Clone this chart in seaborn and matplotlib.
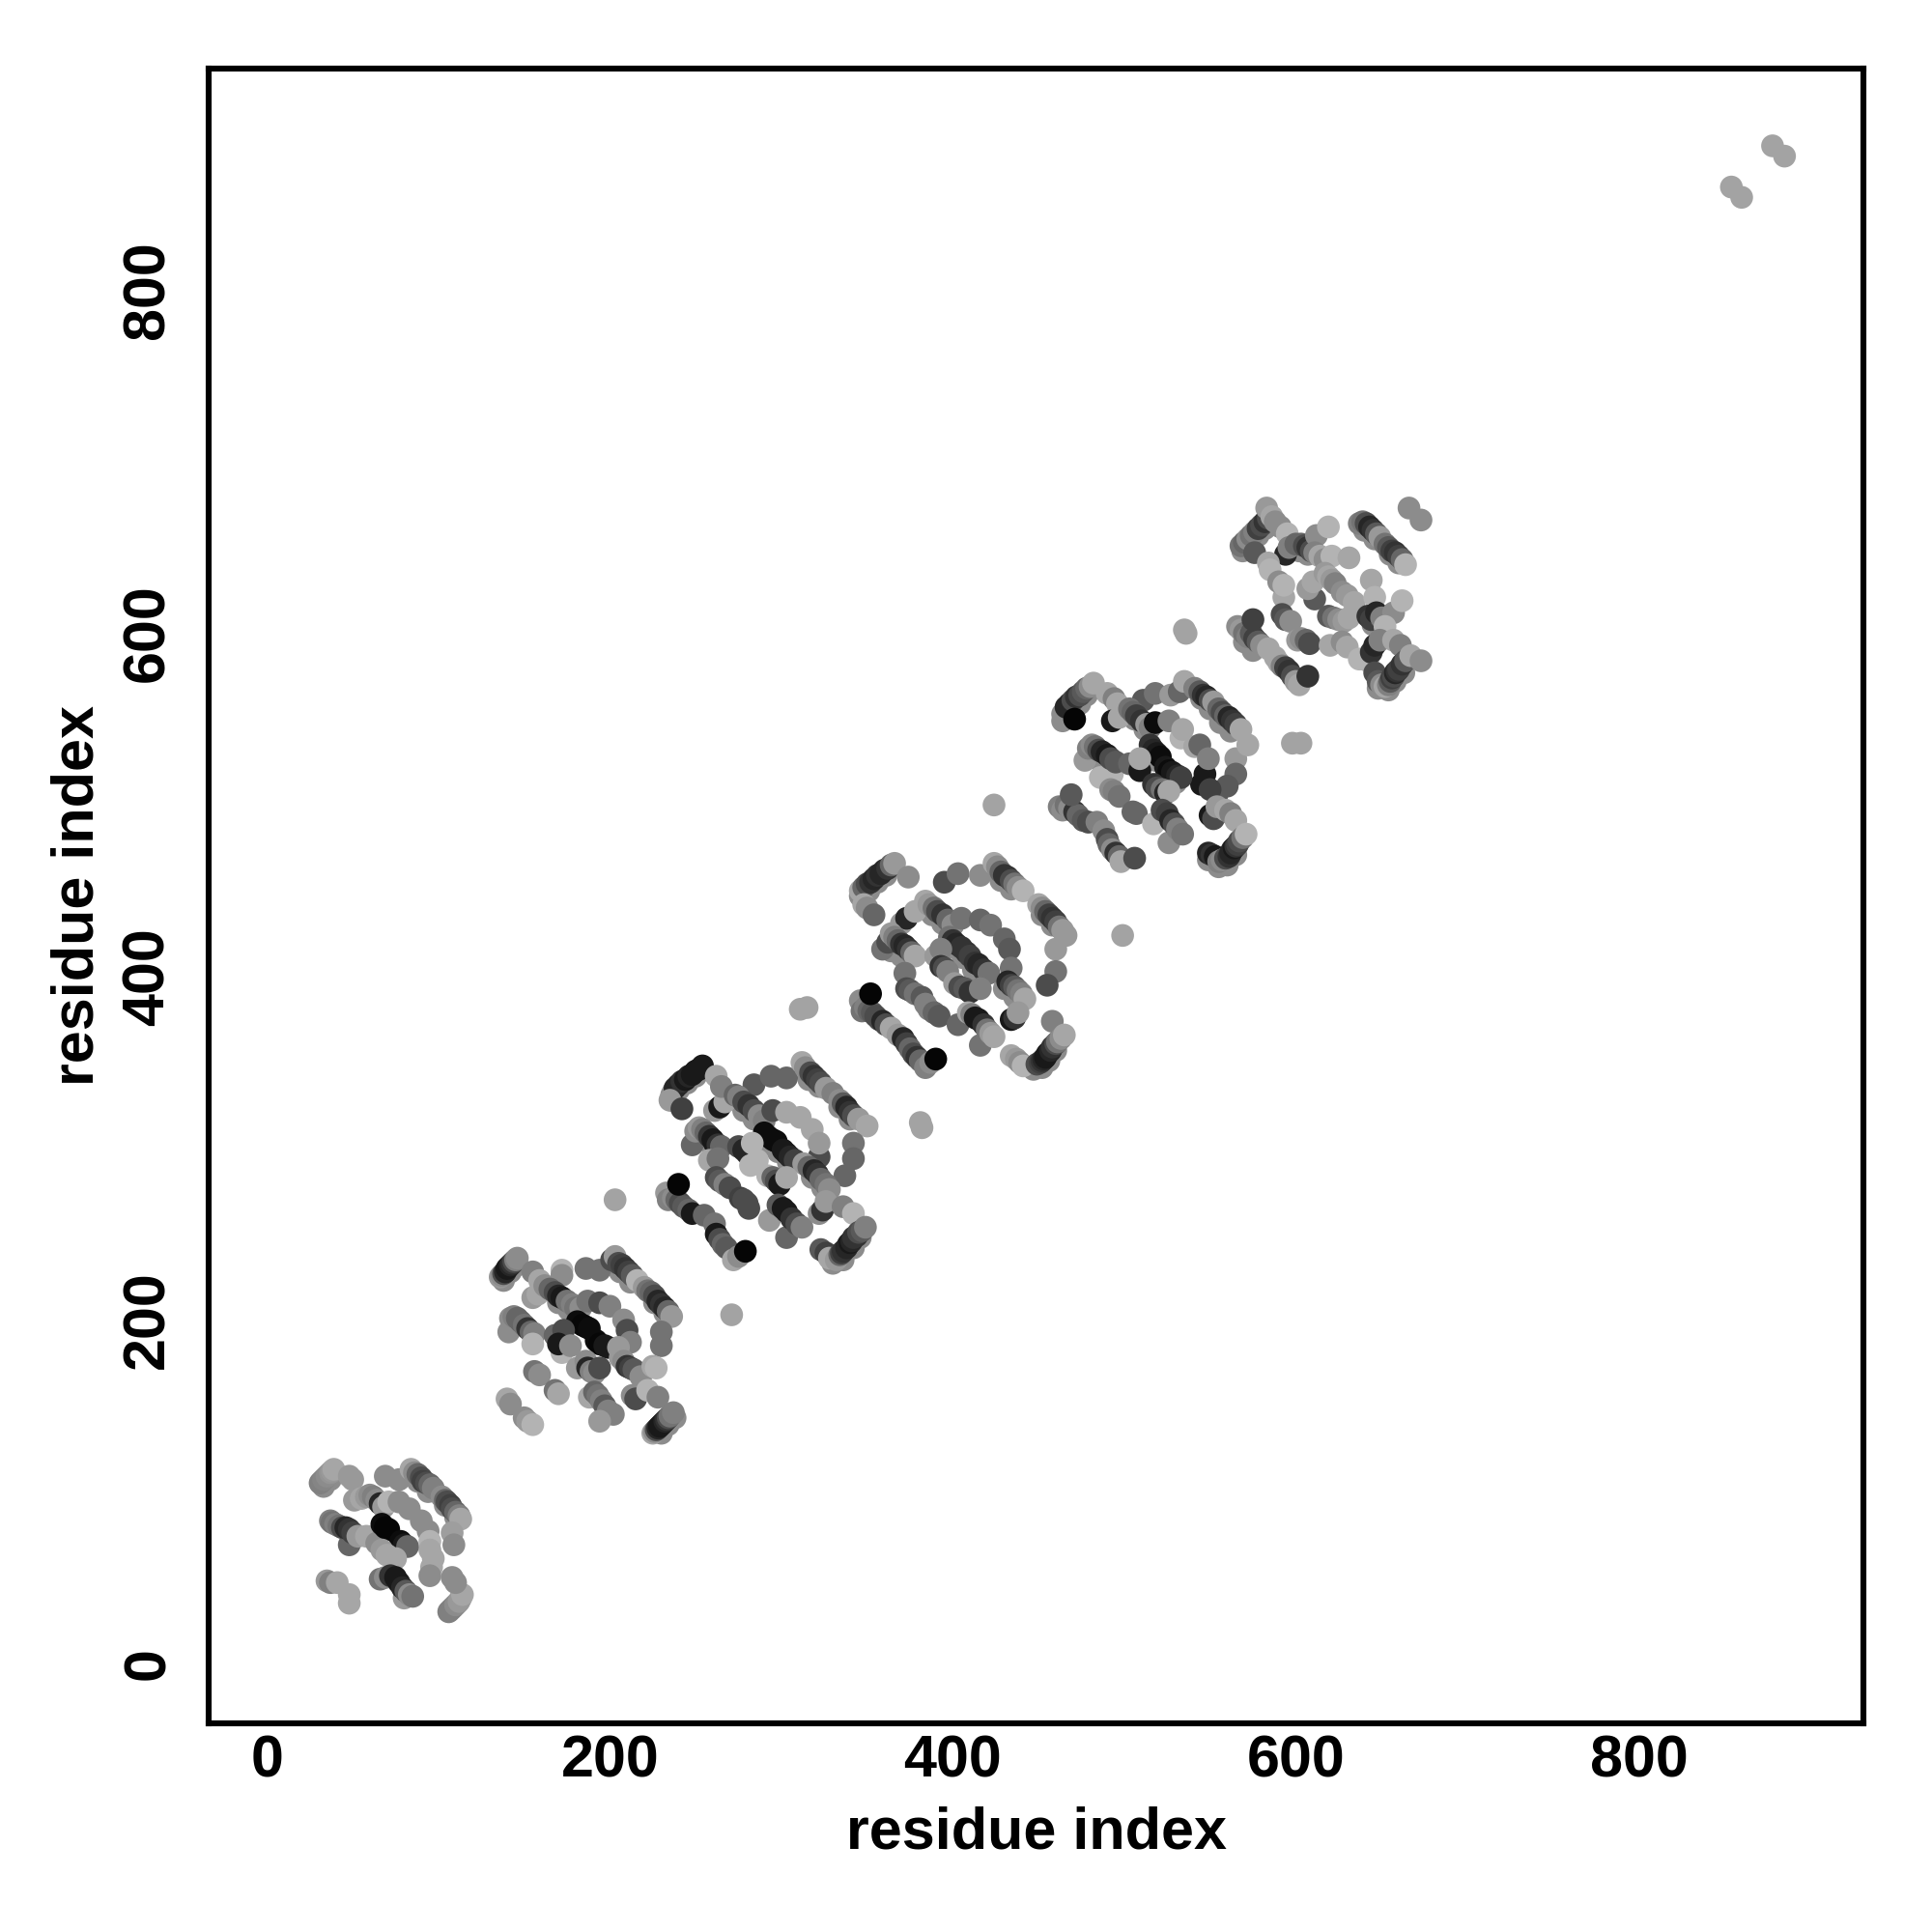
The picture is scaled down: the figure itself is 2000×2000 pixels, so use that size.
import pandas as pd
import matplotlib
matplotlib.use('Agg')
import matplotlib.pyplot as plt
import seaborn as sns

# pale points peeking out under the dense strands
rim_x = [33,37, 88,94,104,110,
         138,142,146, 206,212,226,232, 170,176, 230,234,238,
         236,240,245,250, 316,322,334,340, 278,284, 292,298,304, 330,336,342,346, 256,260, 318,324,
         346,351,356,361, 428,434,452,458, 388,394, 400,406,412, 447,452,456,460, 364,370, 430,436,
         464,468,474,478, 545,550,556,562, 506,512, 518,524,530, 549,555,560,565, 482,488,
         569,573,578,582, 640,646,655,660, 602,607, 645,650, 648,654,658,663, 570,575]
rim_y = [103,107, 106,100,92,85,
         223,228,232, 228,222,210,204, 210,206, 134,139,143,
         331,334,338,342, 340,336,324,317, 322,317, 303,298,292, 233,235,242,248, 305,300, 283,277,
         447,450,455,459, 456,451,436,430, 436,431, 417,411,404, 346,347,351,357, 415,412, 393,388,
         549,554,559,564, 562,556,548,543, 550,544, 526,516,513, 468,464,465,471, 528,522,
         648,652,657,661, 660,655,646,641, 648,646, 605,600, 568,567,572,577, 595,590]
rim_g = [.55]*len(rim_x)

# domain 1
d1_x = [31,32,33,34,35,36,37,38,39, 48,50, 69,77,
        84,86,88,90,91,93,95,97,
        102,104,105,107,108,110,112,113, 108,109,
        51,55,58,60,62,64,66,68,
        71,77,83,90,94,95,95,97,96,95,
        48, 37,38,40,42,44,46,48,50,53,58, 64,
        67,69,71,78,80,82, 67,70,75,
        80,66,69,72,75,77,79,81,83,85,
        35,37,41,48,48,
        106,107,108,109,110,111,112,113,114, 108,110]
d1_y = [105,106,107,108,109,110,111,112,113, 109,107, 109,107,
        113,111,110,108,106,105,104,102,
        97,95,94,92,90,88,86,84, 76,69,
        95,96,97,98,97,95,93,91,
        94,94,90,83,77,71,66,61,56,51,
        69, 83,82,81,80,79,79,78,76,74,74, 70,
        81,79,78,71,69,68, 66,63,61,
        38,49,50,51,50,47,44,42,40,39,
        48,47,47,40,35,
        30,31,32,33,34,35,36,38,40, 50,47]
d1_g = [.5,.5,.52,.52,.55,.55,.58,.6,.65, .6,.6, .55,.55,
        .65,.55,.4,.3,.25,.3,.4,.5,
        .55,.4,.3,.25,.3,.4,.5,.65, .62,.55,
        .6,.65,.6,.55,.5,.55,.15,.6,
        .7,.55,.55,.55,.55,.7,.65,.65,.65,.55,
        .4, .5,.45,.5,.45,.3,.15,.2,.25,.6,.65, .55,
        .05,.02,.02,.05,.1,.4, .6,.65,.65,
        .6,.45,.55,.2,.1,.1,.15,.35,.55,.45,
        .6,.5,.65,.65,.65,
        .5,.5,.5,.5,.55,.55,.6,.6,.65, .55,.55]

# domain 2
d2_x = [136,137,138,139,140,141,142,143,144,145,146,
        155,172,172,155,158,159,
        162,165,168,170,172,175,178,180, 186,194,
        201,203,205,207,209,211,213,216,
        220,222,224,226,228,230,232,234,236, 230,230,
        183,187,194,200,208,210,212,
        181,184,186,188,192,194,197,199,205,
        141,142,144,146,148,150,152,154,156,155,
        172,168,173,170,177, 156,159,168,170,
        181,186,187,189,191,194,
        206,208,210,212,214,218,225,227,
        213,215,222,228,
        188,191,193,195,197,199,202,194,
        140,142,150,152,155,
        225,226,227,228,229,230,231,232,233,234,235,237]
d2_y = [225,226,227,228,230,231,232,233,234,235,236,
        228,229,226,213,215,223,
        220,218,216,214,213,211,209,207, 230,229,
        235,237,233,232,230,228,226,223,
        219,217,216,214,211,209,207,205,202, 193,185,
        207,211,210,208,200,194,187,
        199,197,196,195,188,186,185,184,184,
        193,201,202,201,199,197,195,193,192,186,
        181,191,194,186,185, 170,168,159,157,
        172,176,172,170,169,172,
        178,176,173,172,171,167,173,172,
        156,154,159,155,
        155,158,156,153,150,147,145,141,
        154,151,143,141,139,
        134,135,136,137,138,139,140,141,142,143,144,146]
d2_g = [.6,.55,.3,.15,.1,.1,.15,.2,.3,.5,.55,
        .5,.7,.55,.6,.65,.65,
        .55,.4,.3,.15,.1,.45,.5,.45, .45,.45,
        .3,.6,.3,.25,.2,.25,.35,.7,
        .6,.45,.4,.3,.15,.2,.15,.4,.6, .45,.45,
        .55,.45,.3,.5,.55,.3,.5,
        .05,.03,.03,.05,.05,.03,.1,.1,.6,
        .55,.55,.5,.4,.4,.45,.2,.4,.5,.7,
        .7,.4,.3,.1,.55, .45,.55,.45,.65,
        .6,.55,.15,.5,.55,.3,
        .6,.55,.2,.25,.35,.55,.65,.7,
        .55,.3,.7,.5,
        .65,.4,.45,.5,.35,.5,.5,.6,
        .65,.55,.55,.6,.7,
        .65,.55,.3,.15,.1,.1,.1,.15,.2,.3,.45,.5]

# domain 3
d3_x = [236,237,238,240,242,244,246,248,250,252,254, 235,242,
        261,264,267,262,265, 284,294,303,
        312,314,317,319,321,323,326,
        330,334,336,338,340,342,345,350, 342,342,337,
        273,275,278,281,284,287,290, 295,303,311, 322,318,322,
        290,292,295,297,301,303,305,308,
        313,316,319,321,323,326,328,
        248,250,252,254,256,258,260,261,263,265, 258,263,
        275,278,280,283,286,282, 292,295,297,299,303,
        262,264,267,270,276,278,280,281,
        303,293,298,301,303,306,309,312,
        322,324,326,336,342,
        233,234,237,239,241,243,246,248,240,
        255,261,262,264,266,268,272,275,279,
        323,326,328,
        332,334,335,336,338,339,340,341,342,344,345,347,349]
d3_y = [328,333,335,337,339,340,342,343,345,346,348, 328,323,
        322,324,327,342,336, 337,342,341,
        350,347,344,342,340,338,335,
        332,328,326,324,321,319,317,313, 303,294,284,
        331,330,327,325,322,319,316, 322,321,318, 295,311,303,
        309,307,305,304,299,297,295,293,
        291,289,287,285,282,279,276,
        302,310,312,311,309,307,305,303,302,301, 293,294,
        301,299,297,303,293,290, 284,283,281,279,283,
        283,281,279,277,271,270,268,265,
        248,258,267,265,263,259,256,254,
        262,264,269,266,262,
        274,270,271,270,268,266,264,262,279,
        261,256,250,247,244,242,235,237,240,
        241,239,236,
        235,238,239,240,242,244,245,246,248,249,251,252,254]
d3_g = [.6,.55,.15,.15,.2,.1,.15,.1,.1,.1,.1, .6,.25,
        .6,.1,.65,.65,.5, .35,.4,.4,
        .65,.55,.3,.2,.25,.3,.6,
        .5,.55,.35,.15,.2,.3,.6,.65, .45,.4,.4,
        .4,.5,.3,.2,.3,.55,.5, .3,.65,.65, .3,.65,.6,
        .05,.05,.05,.05,.1,.1,.15,.25,
        .6,.4,.15,.2,.4,.45,.55,
        .4,.55,.6,.5,.4,.2,.1,.1,.2,.4, .65,.45,
        .3,.15,.15,.7,.7,.7, .7,.4,.3,.1,.65,
        .3,.35,.5,.3,.25,.3,.3,.3,
        .4,.6,.35,.1,.1,.2,.3,.5,
        .55,.2,.6,.5,.7,
        .6,.5,.55,.4,.3,.35,.4,.1,.02,
        .4,.45,.1,.3,.4,.35,.65,.55,.02,
        .35,.25,.65,
        .6,.4,.25,.2,.15,.15,.1,.15,.2,.2,.3,.35,.5]

# domain 4
d4_x = [346,348,350,352,354,356,358,360,362,364,366, 374,
        348,350,354, 395,403,416,
        424,426,428,430,432,434,436,438,441,
        450,452,454,456,458,460,462,464,466, 460,460,455,
        370,373,378, 384,386,389,391,394,397,400,405, 416,422,430,433,
        398,400,402,405,408,410,413,415,418,421,
        434,432,434,436,438,440,442,
        359,362,364,366,368,370,372,374,376,378,372,
        390,393,393,395,397, 401,404,407,410,416,
        373,375,378,382,384,386,389,392,
        416,403,409,411,413,415,418,420,422,424,
        434,436,438, 458,
        346,347,349,351,353,355,357,359,361,364, 352,
        368,371,373,375,377,379,381,384,387,390,
        434,437,439,441,
        449,451,452,453,454,455,456,457,458,460,461,463,465]
d4_y = [450,452,454,455,457,459,460,462,463,465,466, 458,
        442,440,436, 455,460,459,
        466,464,461,459,458,456,454,452,450,
        442,440,438,436,434,432,429,427,424, 416,403,395,
        431,434,438, 444,442,440,438,436,433,430,434, 433,430,422,416,
        423,421,419,417,414,412,408,407,404,402,
        405,397,395,394,392,390,387,
        416,420,425,423,421,419,418,416,414,412,402,
        412,416,406,405,403, 396,394,393,391,393,
        393,392,390,388,384,381,379,377,
        360,372,379,378,376,375,372,369,367,365,
        375,376,379, 374,
        386,380,382,380,379,377,375,374,372,370, 390,
        366,364,361,358,355,353,351,347,350,352,
        354,352,350,348,
        349,350,351,352,353,355,356,357,359,361,362,364,366]
d4_g = [.65,.4,.3,.2,.15,.2,.15,.15,.2,.4,.6, .55,
        .65,.55,.4, .3,.45,.55,
        .65,.55,.4,.2,.2,.3,.45,.55,.7,
        .65,.55,.4,.25,.2,.25,.45,.6,.6, .6,.45,.3,
        .6,.15,.65, .65,.6,.45,.3,.2,.4,.55,.45, .4,.45,.4,.35,
        .45,.2,.15,.2,.2,.25,.2,.15,.2,.45,
        .45,.15,.25,.35,.45,.5,.65,
        .45,.3,.6,.5,.4,.2,.15,.2,.4,.65,.45,
        .6,.5,.2,.3,.5, .6,.3,.35,.2,.5,
        .3,.35,.45,.35,.5,.5,.4,.35,
        .45,.4,.65,.5,.1,.1,.2,.45,.6,.65,
        .1,.2,.6, .5,
        .55,.45,.5,.4,.35,.3,.3,.15,.3,.65, .02,
        .6,.15,.25,.4,.3,.2,.4,.5,.55,.02,
        .65,.6,.55,.7,
        .3,.25,.2,.15,.1,.1,.1,.15,.2,.3,.45,.55,.65]

# domain 5
d5_x = [464,466,468,470,472,474,476,478,480,482, 471,
        490,494,496, 493,497,
        511,518,527,532,535,
        541,544,546,548,550,552,
        555,557,559,561,563,565,568,
        565,565,560,554, 572,
        533,503,505,507,510,513,515,518,526,534,
        545,547,550,541,544,549,
        515,517,519,521,524,526,528,531,533,
        486,493,477,479,481,483,485,487,490,492,495,
        503,509,509, 517,519,522,524,526,
        492,494,497,505,507,
        526,517,522,525,527,529,531,534,
        550,552,554,559,562,565,
        462,464,466,468,471,473,476,479,484,469,
        488,490,491,493,495,497,498,506,
        549,551,553,555,557,559,561,562,563,564,565,566,567,569,571]
d5_y = [553,557,559,561,563,564,566,568,569,571, 550,
        565,562,559, 549,551,
        561,565,564,566,572,
        568,566,564,563,561,560,
        556,554,552,551,549,547,544,
        527,518,511,506, 535,
        539,556,554,552,549,547,545,548,549,544,
        512,518,509,534,535,527,
        535,532,530,528,522,520,519,517,516,
        516,518,526,533,535,534,532,531,529,527,525,
        524,520,527, 512,510,509,507,508,
        509,508,505,496,495,
        478,489,497,495,491,489,486,483,
        494,492,499,497,495,491,
        499,497,500,498,496,494,491,490,490,506,
        485,480,477,474,472,470,467,469,
        472,471,470,467,468,469,470,472,474,475,476,477,479,481,483]
d5_g = [.55,.15,.15,.3,.2,.3,.35,.4,.55,.65, .02,
        .65,.5,.65, .1,.65,
        .35,.45,.6,.4,.65,
        .5,.35,.2,.15,.3,.6,
        .4,.3,.4,.15,.2,.25,.65,
        .6,.4,.35,.35, .65,
        .7,.45,.4,.25,.2,.6,.5,.05,.5,.65,
        .1,.1,.25,.65,.4,.5,
        .2,.15,.1,.05,.1,.05,.1,.15,.25,
        .7,.7,.6,.5,.55,.45,.3,.15,.1,.3,.35,
        .4,.1,.65, .2,.3,.45,.15,.65,
        .55,.5,.45,.4,.4,
        .55,.7,.3,.25,.15,.3,.5,.45,
        .1,.3,.6,.65,.5,.65,
        .5,.55,.45,.55,.2,.4,.35,.3,.5,.35,
        .55,.3,.4,.55,.2,.4,.65,.3,
        .15,.2,.1,.5,.55,.3,.2,.15,.15,.1,.2,.25,.3,.45,.7]

# domain 6
d6_x = [568,570,572,574,576,578,580,582,584, 576,
        583,586,588,591,595,
        594,596,600,603,605,607,609,612,619,
        611,614,617,621,631,
        584,585,593,590,593, 611,607,610,
        617,619,621,623,627,630,634,
        619,622,625,628,631, 644,646,
        642,644,647,650,657,662,652,
        592,594,597, 601,603,606,608,
        620,627,630,637,642, 644,646,649,657,661,
        666,673,
        637,639,641,643,645,647,649,
        652,654,656,658,660,662,664,
        566,568,570,572,574,576,578,580,584,575,
        588,590,592,594,596,598,600,602,607,
        646,648,650,652,654,655,656,657,658,659,660,662,664,667,673]
d6_y = [651,653,655,657,659,661,663,665,667, 647,
        673,668,665,662,658,
        646,650,652,652,651,650,648,657,662,
        647,645,643,645,644,
        641,637,621,630,628, 620,626,630,
        635,633,631,629,624,622,618,
        610,609,608,607,609, 631,621,
        610,608,612,609,612,619,604,
        611,608,607, 596,597,596,594,
        593,595,592,585,584, 589,593,596,596,593,
        673,666,
        664,665,664,662,660,658,656,
        652,650,648,647,645,643,640,
        604,602,600,598,600,597,595,593,591,608,
        586,583,581,580,578,575,572,570,575,
        577,572,570,569,570,572,574,575,577,578,579,582,584,587,584]
d6_g = [.45,.4,.55,.45,.5,.25,.3,.2,.3, .35,
        .6,.65,.55,.55,.7,
        .15,.5,.4,.4,.3,.2,.3,.55,.7,
        .5,.65,.55,.7,.65,
        .65,.7,.65,.55,.7, .35,.6,.65,
        .6,.65,.6,.5,.55,.6,.65,
        .35,.45,.55,.6,.65, .65,.7,
        .2,.25,.15,.5,.55,.7,.7,
        .3,.35,.55, .6,.55,.4,.3,
        .65,.55,.65,.7,.7, .2,.15,.5,.65,.5,
        .55,.55,
        .5,.45,.3,.15,.2,.35,.6,
        .45,.35,.25,.2,.25,.4,.7,
        .55,.6,.45,.5,.35,.25,.35,.55,.65,.25,
        .65,.65,.5,.25,.2,.3,.6,.65,.2,
        .3,.35,.55,.65,.5,.35,.25,.3,.15,.2,.25,.2,.35,.65,.55]

# off-diagonal contacts
extra_x = [854,860,878,885,598,603,535,536,499,424,381,382,315,311,271,203]
extra_y = [860,854,884,878,536,536,602,600,424,500,315,312,382,381,203,270]
extra_g = [.64]*16

xticks = [0, 200, 400, 600, 800]
yticks = [0, 200, 400, 600, 800]

df = pd.DataFrame({
    'x': rim_x + d1_x + d2_x + d3_x + d4_x + d5_x + d6_x + extra_x,
    'y': rim_y + d1_y + d2_y + d3_y + d4_y + d5_y + d6_y + extra_y,
    'grey': rim_g + d1_g + d2_g + d3_g + d4_g + d5_g + d6_g + extra_g,
})

sns.set_style('white')
plt.rcParams['font.family'] = ['Liberation Sans', 'DejaVu Sans']
plt.rcParams['text.color'] = 'black'
plt.rcParams['axes.labelcolor'] = 'black'
plt.rcParams['xtick.labelcolor'] = 'black'
plt.rcParams['ytick.labelcolor'] = 'black'

fig = plt.figure(figsize=(10, 10), dpi=200)
ax = fig.add_axes([0.108, 0.108, 0.8565, 0.8565])

sns.scatterplot(data=df, x='x', y='y', hue='grey', palette='gray', hue_norm=(0, 1),
                s=72, linewidth=0, legend=False, ax=ax)

ax.set_xlim(-34, 931)
ax.set_ylim(-35, 929)
ax.set_xticks(xticks)
ax.set_yticks(yticks)
ax.tick_params(axis='x', length=3, width=1, color='black', pad=1, labelsize=22)
ax.tick_params(axis='y', length=3, width=1, color='black', pad=9, labelsize=22)
for lab in ax.get_xticklabels():
    lab.set_fontweight('bold')
for lab in ax.get_yticklabels():
    lab.set_fontweight('bold')
    lab.set_rotation(90)
    lab.set_va('center')
for side in ax.spines.values():
    side.set_linewidth(2.2)
    side.set_color('black')

ax.set_xlabel('residue index', fontsize=22, fontweight='bold')
ax.set_ylabel('residue index', fontsize=22, fontweight='bold')
ax.xaxis.set_label_coords(0.5, -0.05)
ax.yaxis.set_label_coords(-0.062, 0.5)

plt.savefig('out.png', dpi=200)
